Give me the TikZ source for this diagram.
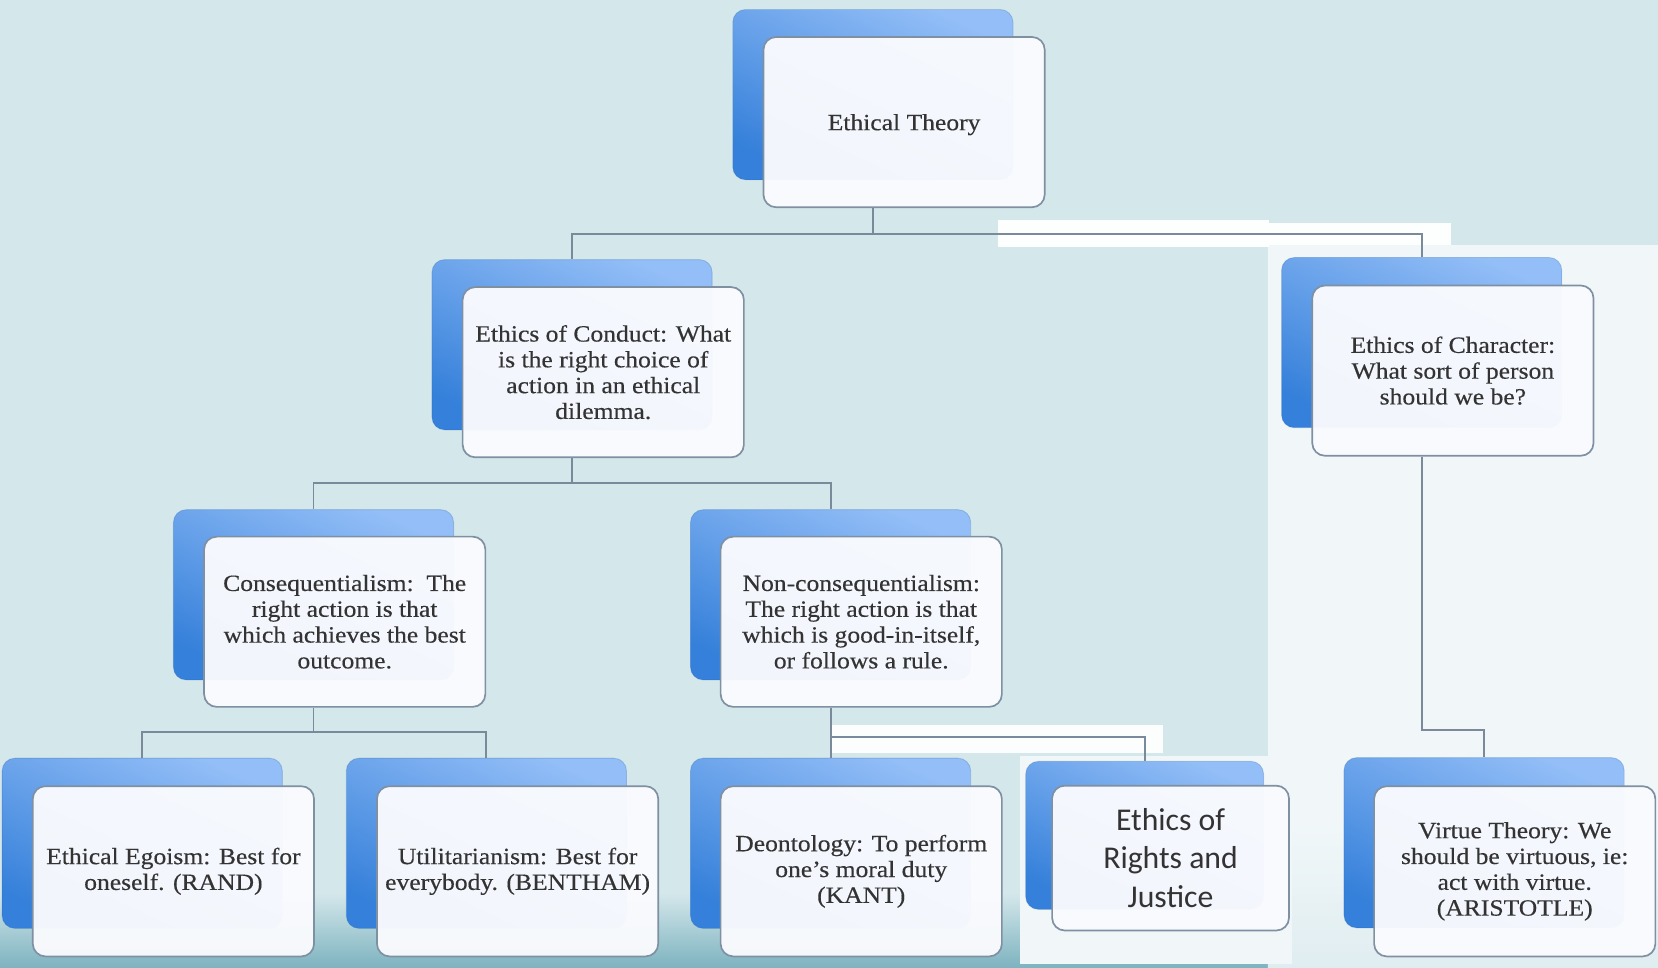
\documentclass[tikz,border=0pt]{standalone}
\usepackage{fontspec}
\setmainfont{Liberation Serif}[FakeStretch=1.1, FakeBold=0.4]
\newfontfamily\rjfont{Carlito}
\definecolor{bgc}{HTML}{D4E7EB}
\definecolor{patch}{HTML}{F1F7F9}
\definecolor{teal}{HTML}{7DB3BF}
\definecolor{blA}{HTML}{93BEF7}
\definecolor{blB}{HTML}{3580DA}
\definecolor{frontfill}{HTML}{FAFBFE}
\definecolor{edge}{HTML}{7F90A3}
\definecolor{conn}{HTML}{7A8A9A}
\definecolor{txtc}{HTML}{333333}
\newcommand\txtfont{\fontsize{11}{12.2}\selectfont}
\tikzset{
  backbox/.style={rounded corners=6pt, minimum width=132.5pt, minimum height=80.5pt,
    top color=blA, bottom color=blB, shading angle=-25, draw=blB!80!black, draw opacity=0.25, line width=0.4pt},
  frontbox/.style={rounded corners=6pt, minimum width=133pt, minimum height=80.5pt,
    fill=frontfill, fill opacity=0.96, text opacity=1, draw=edge, line width=0.8pt,
    align=center, font=\txtfont, text=txtc, inner sep=2pt},
  smallback/.style={backbox, minimum width=112.5pt, minimum height=70pt},
  smallfront/.style={frontbox, minimum width=112pt, minimum height=68.5pt,
    font=\rjfont\fontsize{15}{18}\selectfont},
  connline/.style={draw=conn, line width=0.9pt}
}
\begin{document}
\begin{tikzpicture}[x=0.5pt, y=-0.5pt]
% background
\fill[bgc] (0,0) rectangle (1568,915);
\useasboundingbox (0,0) rectangle (1568,915);
\shade[top color=bgc, bottom color=teal] (0,845) rectangle (1199,915);
\fill[patch] (1199,232) rectangle (1568,915);
\shade[top color=patch, bottom color=patch!85!teal] (1199,780) rectangle (1568,915);
\fill[white!95!bgc] (944,208) rectangle (1200,234);
\fill[white!95!bgc] (1200,211) rectangle (1372,232);
\fill[white!92!bgc] (787,686) rectangle (1100,712);
\fill[patch] (965,715) rectangle (1222,912);

% back boxes
\node[backbox] (etb) at (825.5,89.5) {};
\node[backbox] (ecb) at (541,326) {};
\node[backbox] (chb) at (1344.5,324) {};
\node[backbox] (csb) at (296.5,562.5) {};
\node[backbox] (ncb) at (785.5,562.5) {};
\node[backbox] (egb) at (134.5,797.5) {};
\node[backbox] (utb) at (460,797.5) {};
\node[backbox] (deb) at (785.5,797.5) {};
\node[smallback] (rjb) at (1082.5,790) {};
\node[backbox] (vtb) at (1403.5,797) {};

% front boxes
\node[frontbox, text depth=-2pt] (et) at (855,115.5) {Ethical Theory};
\node[frontbox] (ec) at (570.5,352) {Ethics of Conduct: What\\is the right choice of\\action in an ethical\\dilemma.};
\node[frontbox] (ch) at (1374,350.5) {Ethics of Character:\\What sort of person\\should we be?};
\node[frontbox] (cs) at (326,588) {Consequentialism:\ \ The\\right action is that\\which achieves the best\\outcome.};
\node[frontbox] (nc) at (814.5,588) {Non-consequentialism:\\The right action is that\\which is good-in-itself,\\or follows a rule.};
\node[frontbox] (eg) at (164,824) {Ethical Egoism: Best for\\oneself. (RAND)};
\node[frontbox] (ut) at (489.5,824) {Utilitarianism: Best for\\everybody. (BENTHAM)};
\node[frontbox] (de) at (814.5,824) {Deontology: To perform\\one's moral duty\\(KANT)};
\node[smallfront] (rj) at (1107,811.5) {Ethics of\\Rights and\\Justice};
\node[frontbox] (vt) at (1432.5,824) {Virtue Theory: We\\should be virtuous, ie:\\act with virtue.\\(ARISTOTLE)};

% connectors
\coordinate (j1) at (825.5,221);
\coordinate (j2) at (541,457);
\coordinate (j3) at (296.5,692);
\coordinate (j4) at (785.5,697);
\coordinate (j5) at (1344.5,690);
\draw[connline] (et.south -| etb) -- (j1);
\draw[connline] (j1) -| (ecb.north);
\draw[connline] (j1) -| (chb.north);
\draw[connline] (ec.south -| ecb) -- (j2);
\draw[connline] (j2) -| (csb.north);
\draw[connline] (j2) -| (ncb.north);
\draw[connline] (cs.south -| csb) -- (j3);
\draw[connline] (j3) -| (egb.north);
\draw[connline] (j3) -| (utb.north);
\draw[connline] (nc.south -| ncb) -- (deb.north);
\draw[connline] (j4) -| (rjb.north);
\draw[connline] (ch.south -| chb) -- (j5) -| (vtb.north);
\end{tikzpicture}
\end{document}
